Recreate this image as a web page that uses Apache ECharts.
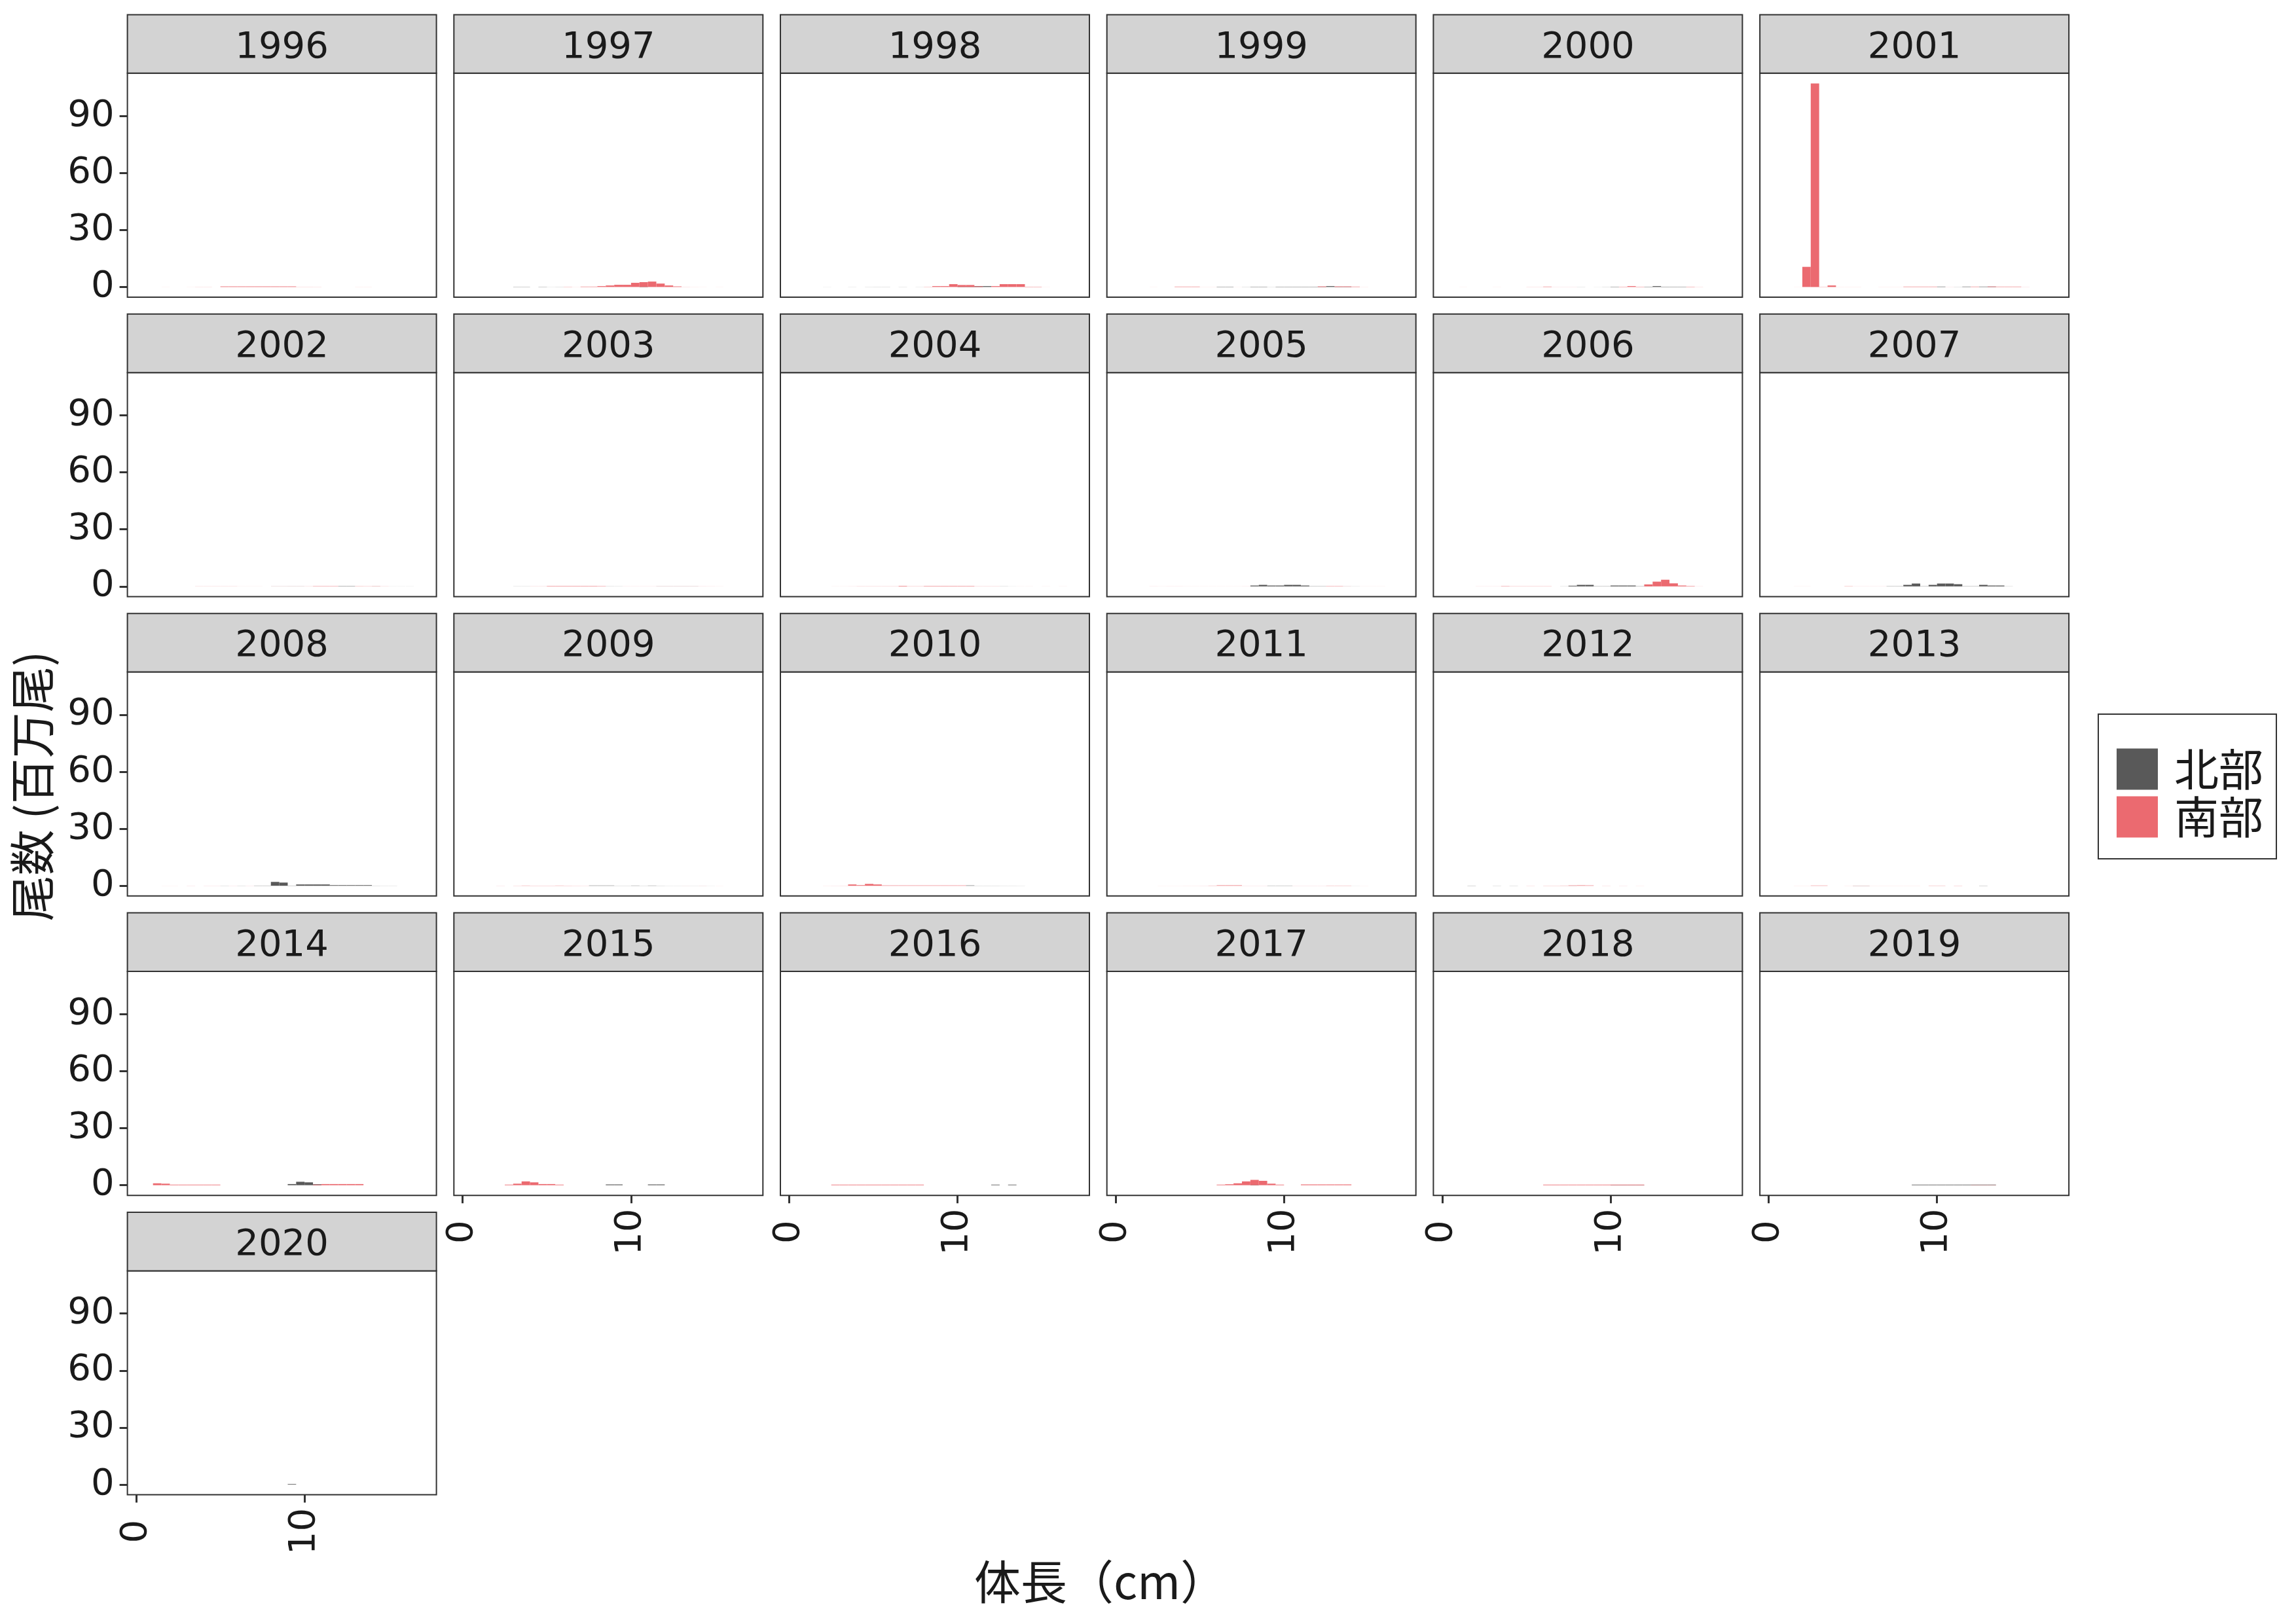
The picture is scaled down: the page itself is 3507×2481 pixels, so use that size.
<!DOCTYPE html>
<html><head><meta charset="utf-8">
<script src="https://cdn.jsdelivr.net/npm/echarts@6/dist/echarts.min.js"></script>
<style>html,body{margin:0;padding:0;background:#fff}#c{width:3507px;height:2481px}</style>
</head><body><div id="c"></div>
<script>
const years = [1996,1997,1998,1999,2000,2001,2002,2003,2004,2005,2006,2007,2008,2009,2010,2011,2012,2013,2014,2015,2016,2017,2018,2019,2020];
const binMid = [0.25,0.75,1.25,1.75,2.25,2.75,3.25,3.75,4.25,4.75,5.25,5.75,6.25,6.75,7.25,7.75,8.25,8.75,9.25,9.75,10.25,10.75,11.25,11.75,12.25,12.75,13.25,13.75,14.25,14.75,15.25,15.75,16.25,16.75];
const xTicks = [0,10];
const yTicks = [0,30,60,90];
const seriesNames = ['北部','南部'];

const N1996 = [0,0,0,0,0,0,0,0,0,0, 0,0,0,0,0,0,0,0,0,0, 0,0,0,0,0,0,0,0,0,0, 0,0,0,0];
const S1996 = [0,0,0,0.02,0,0,0.02,0.05,0.05,0, 0.3,0.3,0.3,0.3,0.3,0.3,0.3,0.3,0.3,0.06, 0.06,0.05,0,0,0,0,0.03,0.03,0,0, 0,0,0,0];
const N1997 = [0,0,0,0,0,0,0.1,0.1,0,0.1, 0.03,0.05,0,0,0,0,0,0,0,0, 0,0.3,0,0,0,0,0,0,0,0, 0,0,0,0];
const S1997 = [0,0,0,0,0,0,0,0,0,0, 0,0,0.1,0.03,0.2,0.2,0.45,0.8,1.15,1.15, 2.2,2.55,2.85,1.8,0.8,0.3,0.05,0.03,0.02,0, 0.02,0,0,0];
const N1998 = [0,0,0,0,0.02,0,0,0.03,0,0.04, 0.05,0.05,0,0.04,0,0.03,0,0,0,0, 0.45,0.45,0.45,0.45,0,0,0,0,0,0, 0,0,0,0];
const S1998 = [0,0,0,0,0,0,0,0,0,0, 0,0,0,0,0,0,0.1,0.45,0.45,1.5, 1.05,1.05,0.35,0,0.45,1.5,1.5,1.5,0.15,0.15, 0.02,0,0,0];
const N1999 = [0,0,0,0,0,0,0,0,0,0, 0,0,0.15,0.15,0,0.05,0.15,0.15,0.04,0.15, 0.15,0.15,0.15,0.15,0.15,0.45,0.15,0.15,0,0, 0,0,0,0];
const S1999 = [0,0,0,0,0.02,0,0,0.2,0.2,0.2, 0.03,0.03,0,0,0.02,0,0,0,0,0, 0,0,0,0,0.3,0,0.3,0.3,0.2,0.03, 0,0,0,0];
const N2000 = [0,0,0,0,0,0,0,0,0,0, 0,0,0,0,0,0,0.04,0,0.02,0.05, 0.15,0,0,0,0.15,0.45,0.15,0.15,0.15,0, 0,0,0,0];
const S2000 = [0,0,0.02,0,0,0,0.02,0,0,0, 0.05,0.05,0.2,0.04,0.04,0.04,0,0,0,0, 0,0.15,0.45,0.15,0,0,0,0,0,0.15, 0.05,0,0,0];
const N2001 = [0,0,0,0,0,0,0,0,0,0, 0,0,0,0,0,0,0,0,0,0, 0.2,0,0.05,0.2,0,0.2,0.2,0,0,0, 0,0,0,0];
const S2001 = [0,0,0,0.02,10.6,107.1,0.1,0.8,0.03,0.03, 0.03,0,0,0.03,0.03,0.03,0.2,0.2,0.2,0.2, 0,0.04,0,0,0.2,0,0.25,0.2,0.2,0.2, 0.04,0,0,0];
const N2002 = [0,0,0,0,0,0,0,0,0,0, 0,0,0,0,0,0,0.03,0.03,0.04,0.04, 0,0,0,0,0.15,0.15,0,0,0.03,0, 0.02,0.02,0.02,0];
const S2002 = [0,0,0.01,0.01,0,0,0,0.05,0.05,0.05, 0.05,0.05,0.02,0.02,0.02,0,0.03,0.03,0.03,0.03, 0.05,0.15,0.15,0.15,0,0,0.1,0.08,0.1,0.05, 0,0,0,0];
const N2003 = [0,0,0,0,0,0,0.04,0.04,0,0, 0,0,0,0,0,0,0,0.05,0.04,0, 0,0,0,0.04,0.04,0.04,0.04,0.04,0,0, 0,0,0,0];
const S2003 = [0,0,0,0,0,0,0,0,0.05,0.05, 0.2,0.2,0.2,0.2,0.2,0.2,0.15,0,0,0.03, 0.03,0.03,0.03,0.04,0.04,0.04,0.04,0.04,0.04,0.03, 0.02,0,0,0];
const N2004 = [0,0,0,0,0,0,0,0,0,0, 0,0,0,0,0,0,0,0,0,0, 0,0,0,0,0,0.05,0.02,0,0,0, 0,0,0,0];
const S2004 = [0,0,0,0,0,0.02,0.02,0.03,0.06,0.06, 0.06,0.06,0.06,0.25,0.08,0.08,0.2,0.2,0.2,0.2, 0.2,0.2,0.06,0.06,0.06,0,0,0.02,0.02,0, 0.02,0,0.02,0];
const N2005 = [0,0,0,0,0,0,0,0,0,0, 0,0,0,0,0,0,0.45,0.8,0.45,0.45, 0.8,0.8,0.45,0.1,0.1,0,0,0.03,0.03,0, 0,0,0,0];
const S2005 = [0,0,0,0,0.03,0.02,0.03,0.03,0.02,0.02, 0.02,0.02,0.02,0.02,0.02,0.03,0,0,0,0, 0,0,0,0,0,0.15,0.15,0.03,0,0.02, 0.02,0.02,0,0];
const N2006 = [0,0,0,0,0,0,0,0,0,0, 0,0,0,0,0.04,0.35,0.8,0.8,0.1,0.1, 0.45,0.45,0.45,0.1,0.1,0,0,0,0,0, 0,0,0,0];
const S2006 = [0,0,0,0,0.03,0.03,0.03,0.15,0.08,0.08, 0.08,0.08,0.08,0,0,0,0,0,0,0, 0,0,0,0,1.05,2.5,3.5,1.6,0.45,0.2, 0.03,0,0,0];
const N2007 = [0,0,0,0,0,0,0,0,0,0, 0,0,0,0,0.1,0.1,0.8,1.5,0.1,0.8, 1.5,1.5,1.15,0.1,0.1,0.8,0.45,0.45,0.05,0, 0,0,0,0];
const S2007 = [0,0,0,0.02,0.02,0,0,0,0,0.1, 0.03,0.03,0.03,0.03,0,0,0,0,0,0, 0,0,0,0,0,0,0,0,0,0, 0,0,0,0];
const N2008 = [0,0,0,0,0,0,0,0,0,0, 0.05,0,0.05,0,0.1,0.1,2.05,1.7,0.1,0.7, 0.7,0.7,0.7,0.35,0.35,0.35,0.35,0.35,0.05,0.04, 0.04,0,0,0];
const S2008 = [0,0,0,0.02,0.02,0,0.04,0,0.04,0.04, 0,0.04,0,0.04,0,0,0,0,0,0, 0,0,0,0,0,0,0,0,0,0, 0,0,0,0];
const N2009 = [0,0,0,0,0,0,0,0,0,0, 0,0,0,0,0,0.15,0.15,0.15,0.05,0.05, 0.12,0.05,0.12,0.05,0.03,0.03,0.02,0.03,0.02,0.02, 0,0,0,0];
const S2009 = [0,0,0,0,0.04,0,0.06,0.12,0.08,0.08, 0.08,0.12,0.08,0.06,0.05,0,0,0,0,0, 0,0,0,0,0,0,0.02,0,0.03,0, 0.02,0,0,0];
const N2010 = [0,0,0,0,0,0,0,0,0,0, 0,0,0,0,0,0,0,0,0,0, 0,0.2,0.05,0.05,0.05,0.04,0.04,0.03,0,0, 0,0,0,0];
const S2010 = [0,0,0,0,0.03,0.04,0.05,0.7,0.35,1.0, 0.7,0.2,0.2,0.2,0.2,0.2,0.2,0.2,0.2,0.2, 0.2,0,0,0,0,0,0,0,0,0, 0,0,0,0];
const N2011 = [0,0,0,0,0,0,0,0,0,0, 0,0,0,0,0,0,0,0,0.1,0.1, 0.1,0,0,0,0,0,0,0,0.02,0, 0,0,0,0];
const S2011 = [0,0,0,0,0,0.02,0.02,0.02,0.03,0.03, 0.04,0.1,0.25,0.25,0.25,0.04,0.04,0.04,0,0, 0,0.04,0.04,0.04,0.04,0.1,0.1,0.1,0,0.02, 0,0,0,0];
const N2012 = [0,0,0,0.08,0,0,0.05,0,0.05,0, 0,0,0,0,0,0.03,0,0,0,0, 0,0,0,0,0,0,0,0,0,0, 0,0,0,0];
const S2012 = [0,0,0,0,0,0,0,0,0,0, 0.05,0,0.07,0.07,0.1,0.2,0.25,0.2,0,0.05, 0,0.04,0,0.03,0,0,0,0,0,0, 0,0,0,0];
const N2013 = [0,0,0,0,0,0,0,0,0,0, 0.06,0.06,0,0,0,0,0,0,0,0, 0,0,0,0,0,0.08,0,0,0,0, 0,0,0,0];
const S2013 = [0,0,0,0.03,0.03,0.15,0.15,0,0,0.03, 0.06,0.06,0.03,0.03,0.03,0.03,0.03,0.03,0,0.1, 0.1,0,0.08,0,0,0,0,0,0,0, 0,0,0,0];
const N2014 = [0,0,0,0,0,0,0,0,0,0, 0,0,0,0,0,0,0,0,0.6,1.8, 1.5,0.5,0,0,0,0,0,0,0,0, 0,0,0,0];
const S2014 = [0,0,1.0,0.8,0.3,0.3,0.3,0.3,0.3,0.3, 0,0,0,0,0,0,0,0,0,0, 0,0.3,0.6,0.6,0.6,0.6,0.6,0,0,0, 0,0,0,0];
const N2015 = [0,0,0,0,0,0,0,0,0,0, 0,0,0,0,0,0,0,0.4,0.4,0, 0,0,0.4,0.4,0,0,0,0,0,0, 0,0,0,0];
const S2015 = [0,0,0,0,0,0.3,0.8,2.0,1.5,0.6, 0.6,0.3,0,0,0,0,0,0,0,0, 0,0,0,0,0,0,0,0,0,0, 0,0,0,0];
const N2016 = [0,0,0,0,0,0,0,0,0,0, 0,0,0,0,0,0,0,0,0,0, 0,0,0,0,0.3,0,0.3,0,0,0, 0,0,0,0];
const S2016 = [0,0,0,0,0,0.3,0.3,0.3,0.3,0.3, 0.3,0.3,0.3,0.3,0.3,0.3,0,0,0,0, 0,0,0,0,0,0,0,0,0,0, 0,0,0,0];
const N2017 = [0,0,0,0,0,0,0,0,0,0, 0,0,0,0,0,0,0.3,0,0,0, 0,0,0,0,0,0,0,0,0,0, 0,0,0,0];
const S2017 = [0,0,0,0,0,0,0,0,0,0, 0,0,0.3,0.5,1.0,2.0,2.8,2.3,0.8,0.3, 0,0,0.4,0.4,0.4,0.4,0.4,0.4,0,0, 0,0,0,0];
const N2018 = [0,0,0,0,0,0,0,0,0,0, 0,0,0,0,0,0,0,0,0,0, 0.2,0.2,0.2,0.2,0,0,0,0,0,0, 0,0,0,0];
const S2018 = [0,0,0,0,0,0,0,0,0,0, 0,0,0.3,0.3,0.3,0.3,0.3,0.3,0.3,0.3, 0.3,0.3,0.3,0.3,0,0,0,0,0,0, 0,0,0,0];
const N2019 = [0,0,0,0,0,0,0,0,0,0, 0,0,0,0,0,0,0,0.3,0.3,0.3, 0.3,0.3,0.3,0.3,0.3,0.3,0.3,0,0,0, 0,0,0,0];
const S2019 = [0,0,0,0,0,0,0,0,0,0, 0,0,0,0,0,0,0,0,0,0, 0,0,0,0,0.1,0.1,0.1,0,0,0, 0,0,0,0];
const N2020 = [0,0,0,0,0,0,0,0,0,0, 0,0,0,0,0,0,0,0,0.3,0, 0,0,0,0,0,0,0,0,0,0, 0,0,0,0];
const S2020 = [0,0,0,0,0,0,0,0,0,0, 0,0,0,0,0,0,0,0,0,0, 0,0,0,0,0,0,0,0,0,0, 0,0,0,0];

const north = [N1996,N1997,N1998,N1999,N2000,N2001,N2002,N2003,N2004,N2005,N2006,N2007,N2008,N2009,N2010,N2011,N2012,N2013,N2014,N2015,N2016,N2017,N2018,N2019,N2020];
const south = [S1996,S1997,S1998,S1999,S2000,S2001,S2002,S2003,S2004,S2005,S2006,S2007,S2008,S2009,S2010,S2011,S2012,S2013,S2014,S2015,S2016,S2017,S2018,S2019,S2020];

// layout
const FONT_NUM = '"DejaVu Sans", "Noto Sans", sans-serif';
const FONT_CJK = '"Noto Sans CJK JP", "Noto Sans", sans-serif';
const PL = 194.6, PW = 472, PX = 498.7;
const ST = 22.4, SH = 89.4, PH = 342.2, PY = 457.4;
const XMIN = -0.52, XMAX = 17.83, YMIN = -5.36, YMAX = 112.5;
const BINW = 0.5;
const barPx = BINW / (XMAX - XMIN) * PW;
const colN = '#595959', colS = '#EB6A70';
const txt = '#1a1a1a', line = '#333333';

const grids = [], xAxes = [], yAxes = [], series = [], graphics = [];
years.forEach((yr, i) => {
  const r = Math.floor(i / 6), c = i % 6;
  const left = PL + c * PX, stripTop = ST + r * PY, top = stripTop + SH;
  grids.push({left: left, top: top, width: PW, height: PH, show: true, borderColor: line, borderWidth: 2, backgroundColor: '#fff'});
  const showX = (i >= 19);
  const showY = (c === 0);
  xAxes.push({gridIndex: i, type: 'value', min: XMIN, max: XMAX,
    splitLine: {show: false}, axisLine: {show: false, onZero: false},
    axisTick: {show: showX, length: 12, lineStyle: {color: line, width: 3}, customValues: xTicks},
    axisLabel: {show: showX, customValues: xTicks, rotate: 90, align: 'center', verticalAlign: 'middle',
      fontSize: 56, color: txt, margin: 56, fontFamily: FONT_NUM}});
  yAxes.push({gridIndex: i, type: 'value', min: YMIN, max: YMAX,
    splitLine: {show: false}, axisLine: {show: false, onZero: false},
    axisTick: {show: showY, length: 12, lineStyle: {color: line, width: 3}, customValues: yTicks},
    axisLabel: {show: showY, customValues: yTicks, fontSize: 56, color: txt, margin: 20, fontFamily: FONT_NUM,
      padding: [10, 0, 0, 0]}});
  series.push({name: seriesNames[0], type: 'bar', xAxisIndex: i, yAxisIndex: i, stack: 'st' + i,
    barWidth: barPx, itemStyle: {color: colN}, data: binMid.map((x, k) => [x, north[i][k]])});
  series.push({name: seriesNames[1], type: 'bar', xAxisIndex: i, yAxisIndex: i, stack: 'st' + i,
    barWidth: barPx, itemStyle: {color: colS}, data: binMid.map((x, k) => [x, south[i][k]])});
  graphics.push({type: 'rect', shape: {x: left, y: stripTop, width: PW, height: SH},
    style: {fill: '#D3D3D3', stroke: line, lineWidth: 2}, z: 10});
  graphics.push({type: 'text', x: left + PW / 2, y: stripTop + SH / 2 + 6,
    style: {text: String(yr), font: '56px ' + FONT_NUM, fill: txt, align: 'center', verticalAlign: 'middle'}, z: 11});
});
graphics.push({type: 'text', x: 1681, y: 2416, style: {text: '体長（cm）', font: '71px ' + FONT_CJK, fill: txt, align: 'center', verticalAlign: 'middle'}});
graphics.push({type: 'text', x: 49, y: 1201, rotation: Math.PI / 2, style: {text: '尾数 (百万尾)', font: '70px ' + FONT_CJK, fill: txt, align: 'center', verticalAlign: 'middle'}});

const chart = echarts.init(document.getElementById('c'), null, {renderer: 'canvas'});
chart.setOption({
  animation: false,
  backgroundColor: '#fff',
  grid: grids, xAxis: xAxes, yAxis: yAxes, series: series,
  legend: {data: seriesNames, orient: 'vertical', left: 3205, top: 1091, itemWidth: 63, itemHeight: 63, itemGap: 5,
    icon: 'rect', selectedMode: false, borderColor: line, borderWidth: 2, padding: [50, 20, 30, 28],
    textStyle: {fontSize: 68, color: txt, fontFamily: FONT_CJK, padding: [0, 0, 0, 20]}},
  graphic: graphics
});
</script></body></html>
